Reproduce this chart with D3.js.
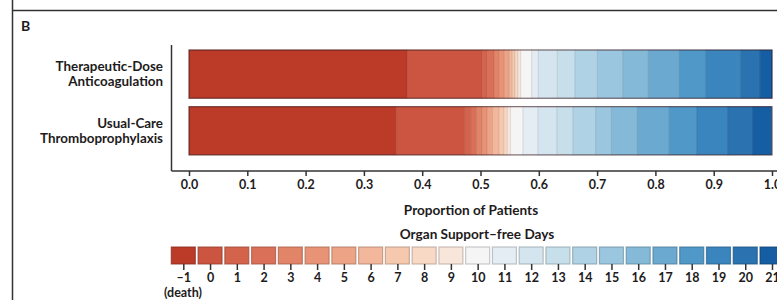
<!DOCTYPE html>
<html>
<head>
<meta charset="utf-8">
<script src="https://cdn.jsdelivr.net/npm/d3@7"></script>
<style>
  body { margin: 0; background: #fff; }
  text { font-family: "Lato", "Open Sans", sans-serif; font-weight: bold; fill: #1e1b1c; }
</style>
</head>
<body>
<div id="viz"></div>
<script>
// organ support-free days, -1 = death
const days = [-1, 0, 1, 2, 3, 4, 5, 6, 7, 8, 9, 10, 11, 12, 13, 14, 15, 16, 17, 18, 19, 20, 21];
const groupLabels = [
  ['Therapeutic-Dose', 'Anticoagulation'],
  ['Usual-Care', 'Thromboprophylaxis'],
];
// proportion of patients in each day category
const therapeutic = [0.374, 0.129, 0.0086, 0.0115, 0.0091, 0.0086, 0.0086, 0.005, 0.0048, 0.005, 0.0048,
  0.0189, 0.0113, 0.0326, 0.0304, 0.0383, 0.0436, 0.0439, 0.0532, 0.0458, 0.060, 0.0326, 0.0206];
const usualCare = [0.356, 0.117, 0.0103, 0.0098, 0.0096, 0.0086, 0.0093, 0.0113, 0.0086, 0.0055, 0.0055,
  0.0216, 0.0257, 0.0326, 0.0274, 0.0389, 0.0269, 0.0446, 0.0545, 0.0477, 0.0532, 0.0429, 0.0321];
const xTicks = [0, 0.1, 0.2, 0.3, 0.4, 0.5, 0.6, 0.7, 0.8, 0.9, 1.0];
const dayColors = ['#bc3a28', '#cc5541', '#d4634c', '#db7059', '#e28468', '#e99376', '#eda386', '#f3b89c',
  '#f6c8ae', '#f8d9c6', '#f9e6db', '#f5f5f5', '#e4edf3', '#d4e5ef', '#c6dfeb', '#afd2e5', '#9ac6df',
  '#84bad8', '#6ba9d0', '#4f98c7', '#3a85bd', '#2a72b0', '#155ea3'];

const width = 777, height = 300;
const svg = d3.select('#viz').append('svg')
  .attr('width', width).attr('height', height);

const color = d3.scaleOrdinal().domain(days).range(dayColors);
const x = d3.scaleLinear().domain([0, 1]).range([189, 772]);
const y = d3.scaleBand().domain([0, 1]).range([41.6, 163.3]).paddingInner(0.148).paddingOuter(0.148);
const axisY = 171;

// panel frame
svg.append('line').attr('x1', 12).attr('x2', width).attr('y1', 10.5).attr('y2', 10.5)
  .attr('stroke', '#333').attr('stroke-width', 1.5);
svg.append('line').attr('x1', 12.5).attr('x2', 12.5).attr('y1', 0).attr('y2', height)
  .attr('stroke', '#333').attr('stroke-width', 1.5);
svg.append('text').attr('x', 21).attr('y', 31).style('font-size', '14px').text('B');

// stacked bars
const rows = [therapeutic, usualCare];
rows.forEach((vals, i) => {
  const ends = d3.cumsum(vals);
  const segs = vals.map((v, j) => ({ day: days[j], x0: ends[j] - v, x1: ends[j] }));
  const g = svg.append('g');
  g.selectAll('rect').data(segs).join('rect')
    .attr('x', d => x(d.x0))
    .attr('y', y(i))
    .attr('width', d => x(d.x1) - x(d.x0))
    .attr('height', y.bandwidth())
    .attr('fill', d => color(d.day))
    .attr('stroke', d => d3.color(color(d.day)).darker(0.7))
    .attr('stroke-opacity', 0.35)
    .attr('stroke-width', 1);
  g.append('rect')
    .attr('x', x(0)).attr('y', y(i))
    .attr('width', x(1) - x(0)).attr('height', y.bandwidth())
    .attr('fill', 'none').attr('stroke', '#3a1a20').attr('stroke-opacity', 0.6).attr('stroke-width', 1.2);

  const t = svg.append('text').attr('text-anchor', 'end').style('font-size', '13.4px');
  groupLabels[i].forEach((line, k) => {
    t.append('tspan').attr('x', 163).attr('y', y(i) + y.bandwidth() / 2 - 3 + k * 15).text(line);
  });
});

// y axis line
svg.append('line').attr('x1', 171.5).attr('x2', 171.5).attr('y1', 45).attr('y2', axisY)
  .attr('stroke', '#333').attr('stroke-width', 1.5);

// x axis
const xAxis = svg.append('g').attr('transform', `translate(0,${axisY})`)
  .call(d3.axisBottom(x).tickValues(xTicks).tickFormat(d3.format('.1f')).tickSize(5).tickPadding(4));
xAxis.select('.domain').attr('d', `M171.5,0H${width}`).attr('stroke', '#333').attr('stroke-width', 1.5);
xAxis.selectAll('.tick line').attr('stroke', '#333').attr('stroke-width', 1.5);
xAxis.selectAll('.tick text').style('font-size', '12.5px').style('font-family', null).attr('fill', null);

svg.append('text').attr('x', 471).attr('y', 215).attr('text-anchor', 'middle')
  .style('font-size', '13.6px').text('Proportion of Patients');
svg.append('text').attr('x', 477).attr('y', 239).attr('text-anchor', 'middle')
  .style('font-size', '13.6px').text('Organ Support–free Days');

// legend
const lx = d3.scalePoint().domain(days).range([183.3, 772]);
const legend = svg.append('g');
legend.selectAll('rect').data(days).join('rect')
  .attr('x', d => lx(d) - 12)
  .attr('y', 247)
  .attr('width', 24)
  .attr('height', 17)
  .attr('fill', d => color(d))
  .attr('stroke', d => d3.color(color(d)).darker(0.9))
  .attr('stroke-opacity', 0.7)
  .attr('stroke-width', 1.2);
const lAxis = svg.append('g').attr('transform', 'translate(0,264)')
  .call(d3.axisBottom(lx).tickSize(6).tickPadding(3).tickFormat(d => d < 0 ? '–1' : d));
lAxis.select('.domain').remove();
lAxis.selectAll('.tick line').attr('stroke', '#333').attr('stroke-width', 1.5);
lAxis.selectAll('.tick text').style('font-size', '12.5px').style('font-family', null).attr('fill', null);
svg.append('text').attr('x', 183).attr('y', 297).attr('text-anchor', 'middle')
  .style('font-size', '12.5px').text('(death)');
</script>
</body>
</html>
